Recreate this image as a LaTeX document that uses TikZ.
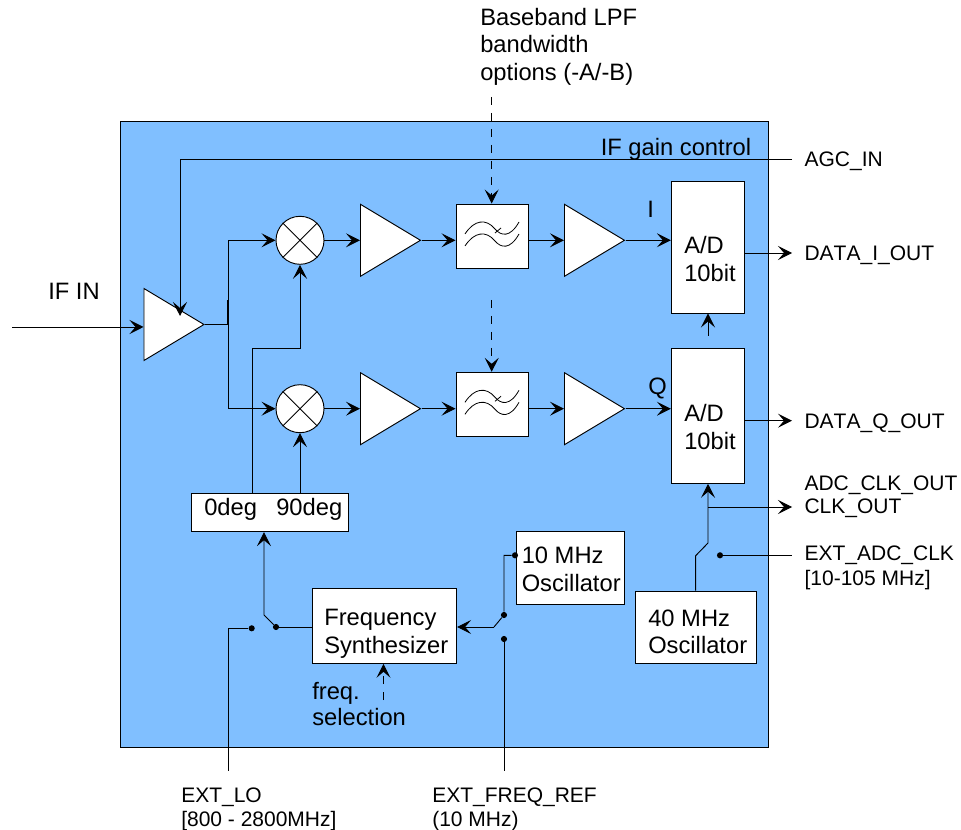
\documentclass[tikz,border=0pt]{standalone}
\usepackage{fontspec}
\setmainfont[Kerning=Off]{Liberation Sans}
\usetikzlibrary{arrows.meta}
\usetikzlibrary{shapes.geometric}
\definecolor{chipblue}{RGB}{128,191,255}
\tikzset{
  sig/.style={line width=0.7pt, -{Stealth[length=10.5pt,width=10.5pt,inset=4.5pt]}},
  wire/.style={line width=0.7pt},
  ctl/.style={sig, dash pattern=on 6pt off 6pt},
  blockbox/.style={draw, fill=white, line width=0.7pt, inner sep=0pt},
  ampbox/.style={draw, fill=white, line width=0.7pt, inner sep=0pt, isosceles triangle,
    isosceles triangle stretches, minimum width=54pt, minimum height=45pt, anchor=lower side},
  mixbox/.style={draw, fill=white, line width=0.7pt, circle, inner sep=0pt, minimum size=36pt},
  swdot/.style={circle, fill=black, inner sep=0pt, minimum size=4.6pt},
  biglabel/.style={font=\fontsize{17.8}{21}\selectfont, anchor=base west, inner sep=0pt, yshift=-0.75pt},
  smalllabel/.style={font=\fontsize{15.75}{18.75}\selectfont, anchor=base west, inner sep=0pt, yshift=-0.75pt},
  lpfwave/.pic={
    \draw[line width=0.6pt] (-27,-2) .. controls (-18,-16) and (-6,-18) .. (3,-7) .. controls (9,0) and (18,2) .. (27,-14);
    \draw[line width=0.6pt] (-27,10) .. controls (-18,-4) and (-6,-6) .. (3,5) .. controls (9,12) and (18,14) .. (27,-2);
    \draw[line width=0.6pt] (3,-3) -- (9,-8);
  }
}

\begin{document}
\begin{tikzpicture}[x=0.75pt, y=-0.75pt]
  \useasboundingbox (0,0) rectangle (961,830);
  \node[draw, fill=chipblue, line width=0.7pt, inner sep=0pt, minimum width=486pt, minimum height=469.5pt] (chip) at (444,434) {};

  % upper path
  \node[ampbox] (ifamp) at (143.5,324.5) {};
  \node[mixbox] (mixa) at (300,240.3) {};
  \node[ampbox] (ampa) at (360,240.3) {};
  \node[blockbox, minimum width=54pt, minimum height=48pt] (lpfa) at (492,236) {};
  \node[ampbox] (ampc) at (564,240.3) {};
  \node[blockbox, minimum width=55pt, minimum height=99pt] (adi) at (708,247) {};

  % lower path
  \node[mixbox] (mixb) at (300,408.7) {};
  \node[ampbox] (ampb) at (360,408.7) {};
  \node[blockbox, minimum width=54pt, minimum height=48pt] (lpfb) at (492,404.3) {};
  \node[ampbox] (ampd) at (564,408.7) {};
  \node[blockbox, minimum width=55pt, minimum height=101.25pt] (adq) at (708,415.8) {};

  % clocks
  \node[blockbox, minimum width=117.5pt, minimum height=28.5pt] (phase) at (270,512.7) {};
  \node[blockbox, minimum width=108.5pt, minimum height=56pt] (synth) at (384.3,626) {};
  \node[blockbox, minimum width=81pt, minimum height=54.75pt] (osca) at (570,567.5) {};
  \node[blockbox, minimum width=90.75pt, minimum height=54pt] (oscb) at (696.2,627) {};

  \pic at (lpfa) {lpfwave};
  \pic at (lpfb) {lpfwave};
  \draw[wire] (mixa.45) -- (mixa.225);
  \draw[wire] (mixa.135) -- (mixa.315);
  \draw[wire] (mixb.45) -- (mixb.225);
  \draw[wire] (mixb.135) -- (mixb.315);

  % switch contacts
  \node[swdot] (dotlo) at (251.7,628.3) {};
  \node[swdot] (dotsyn) at (276,627) {};
  \node[swdot] (dotosc) at (504,615) {};
  \node[swdot] (dotref) at (504,639) {};
  \node[swdot] (dottop) at (515,555.3) {};
  \node[swdot] (dotadc) at (720,555.3) {};

  % free ends and bends
  \coordinate (ifin) at (12,327);
  \coordinate (agcend) at (792,159);
  \coordinate (agcbend) at (180,159);
  \coordinate (agcamp) at (180,316);
  \coordinate (split) at (228,324.5);
  \coordinate (stub) at (228,300);
  \coordinate (splita) at (228,240.3);
  \coordinate (splitb) at (228,408.7);
  \coordinate (bend) at (252,348.7);
  \coordinate (bwtop) at (491.7,97);
  \coordinate (bwmid) at (491.7,300);
  \coordinate (iout) at (792,253);
  \coordinate (qout) at (792,420.7);
  \coordinate (adup) at (708,336);
  \coordinate (clkin) at (708,543);
  \coordinate (clkoff) at (695.7,555.7);
  \coordinate (clktap) at (708,507);
  \coordinate (clkout) at (792,507);
  \coordinate (adcend) at (792,555.3);
  \coordinate (loup) at (264,615);
  \coordinate (lobend) at (228,628.3);
  \coordinate (loend) at (228,771);
  \coordinate (refend) at (504,771);
  \coordinate (refin) at (494,627);
  \coordinate (refbend) at (504,555.3);
  \coordinate (selend) at (383.5,700);

  \draw[sig] (ifin) -- (ifin -| ifamp.lower side);
  \draw[sig] (agcend) -- (agcbend) -- (agcamp);
  \draw[wire] (ifamp.apex) -- (split);
  \draw[line width=1.5pt] (split) -- (stub);
  \draw[sig] (split) -- (splita) -- (mixa.west);
  \draw[sig] (split) -- (splitb) -- (mixb.west);
  \draw[sig] (mixa.east) -- (ampa.lower side);
  \draw[sig] (ampa.apex) -- (ampa.apex -| lpfa.west);
  \draw[sig] (ampa.apex -| lpfa.east) -- (ampc.lower side);
  \draw[sig] (ampc.apex) -- (ampc.apex -| adi.west);
  \draw[sig] (mixb.east) -- (ampb.lower side);
  \draw[sig] (ampb.apex) -- (ampb.apex -| lpfb.west);
  \draw[sig] (ampb.apex -| lpfb.east) -- (ampd.lower side);
  \draw[sig] (ampd.apex) -- (ampd.apex -| adq.west);
  \draw[ctl] (bwtop) -- (lpfa.north -| bwtop);
  \draw[ctl] (bwmid) -- (lpfb.north -| bwmid);
  \draw[sig] (iout -| adi.east) -- (iout);
  \draw[sig] (qout -| adq.east) -- (qout);
  \draw[sig] (adup) -- (adi.south);
  \draw[sig] (bend |- phase.north) -- (bend) -| (mixa.south);
  \draw[sig] (mixb.south |- phase.north) -- (mixb.south);
  \draw[sig] (clkoff |- oscb.north) -- (clkoff) -- (clkin) -- (adq.south);
  \draw[sig] (clktap) -- (clkout);
  \draw[wire] (dotadc) -- (adcend);
  \draw[wire] (dotsyn) -- (dotsyn -| synth.west);
  \draw[sig] (dotsyn) -- (loup) -- (loup |- phase.south);
  \draw[wire] (dotlo) -- (lobend) -- (loend);
  \draw[wire] (dotref) -- (refend);
  \draw[wire] (dottop) -- (refbend) -- (dotosc) -- (refin);
  \draw[sig] (refin) -- (refin -| synth.east);
  \draw[ctl] (selend) -- (selend |- synth.south);

  % labels
  \node[biglabel] (bwa) at (480,24.3) {Baseband LPF};
  \node[biglabel] (bwb) at (480,51.7) {bandwidth};
  \node[biglabel] (bwc) at (480,79.3) {options (-A/-B)};
  \node[biglabel] (ifgain) at (600.5,155) {IF gain control};
  \node[biglabel] (ifinlab) at (48,299) {IF IN};
  \node[biglabel] (ilab) at (647,216.7) {I};
  \node[biglabel] (qlab) at (648,394) {Q};
  \node[biglabel] (adia) at (684,252.3) {A/D};
  \node[biglabel] (adib) at (684,280.6) {10bit};
  \node[biglabel] (adqa) at (684,420.7) {A/D};
  \node[biglabel] (adqb) at (684,449) {10bit};
  \node[biglabel] (pha) at (204,515) {0deg};
  \node[biglabel] (phb) at (276,515) {90deg};
  \node[biglabel] (syna) at (324,624.3) {Frequency};
  \node[biglabel] (synb) at (324,652.3) {Synthesizer};
  \node[biglabel] (oscaa) at (521.5,562.7) {10 MHz};
  \node[biglabel] (oscab) at (521.5,590.7) {Oscillator};
  \node[biglabel] (oscba) at (648,625) {40 MHz};
  \node[biglabel] (oscbb) at (648,652.7) {Oscillator};
  \node[biglabel] (sela) at (312,698.3) {freq.};
  \node[biglabel] (selb) at (312,724.3) {selection};
  \node[smalllabel] (agclab) at (804.3,165.7) {AGC\_IN};
  \node[smalllabel] (dilab) at (804.3,260) {DATA\_I\_OUT};
  \node[smalllabel] (dqlab) at (804.3,428) {DATA\_Q\_OUT};
  \node[smalllabel] (adclab) at (804.3,490) {ADC\_CLK\_OUT};
  \node[smalllabel] (clklab) at (804.3,512.3) {CLK\_OUT};
  \node[smalllabel] (extadca) at (804.3,560) {EXT\_ADC\_CLK};
  \node[smalllabel] (extadcb) at (804.3,584.3) {[10-105 MHz]};
  \node[smalllabel] (extloa) at (181,801) {EXT\_LO};
  \node[smalllabel] (extlob) at (181,825) {[800 - 2800MHz]};
  \node[smalllabel] (extrefa) at (432,801) {EXT\_FREQ\_REF};
  \node[smalllabel] (extrefb) at (432,825) {(10 MHz)};
\end{tikzpicture}
\end{document}
